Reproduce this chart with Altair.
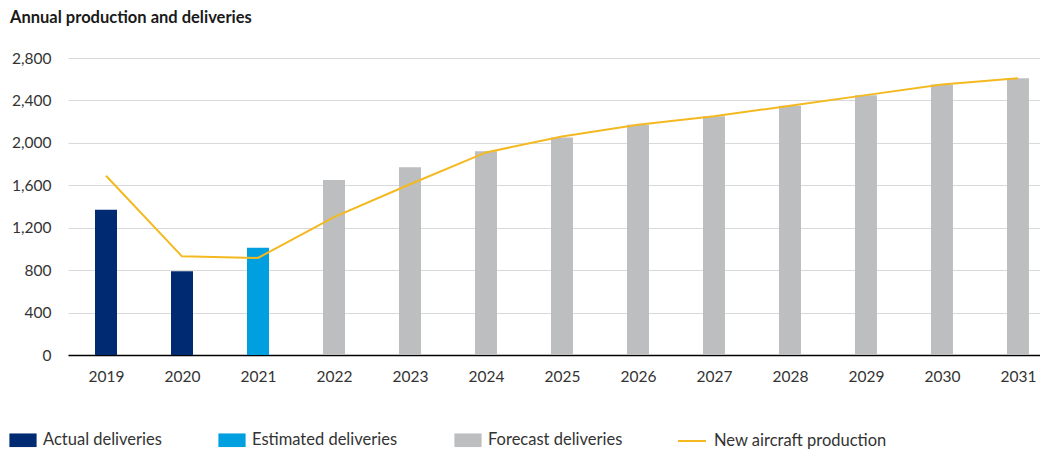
import altair as alt
import pandas as pd

years = [str(y) for y in range(2019, 2032)]
deliveries = [1370, 790, 1010, 1650, 1770, 1920, 2050, 2170, 2250, 2350, 2450, 2550, 2610]
delivery_type = ["Actual deliveries"] * 2 + ["Estimated deliveries"] + ["Forecast deliveries"] * 10
production = [1690, 930, 915, 1300, 1610, 1910, 2060, 2170, 2250, 2350, 2450, 2550, 2610]
y_ticks = list(range(0, 2801, 400))

type_domain = ["Actual deliveries", "Estimated deliveries", "Forecast deliveries"]
type_colors = ["#002b73", "#009fe0", "#bdbebf"]
line_name = "New aircraft production"
line_color = "#f4b920"
FONT = "Lato"
RECT = "M-1,-0.5H1V0.5H-1Z"

df = pd.DataFrame({
    "year": years,
    "deliveries": deliveries,
    "type": delivery_type,
    "production": production,
    "series": [line_name] * len(years),
})

x_enc = alt.X(
    "year:N",
    sort=years,
    scale=alt.Scale(type="point", padding=0.395, align=0.633),
    axis=alt.Axis(title=None, labelAngle=0, ticks=False, domainColor="#000000",
                  domainWidth=1.5, labelPadding=14, labelFontSize=15.5, labelFont=FONT,
                  labelColor="#333333", grid=False),
)

y_axis = alt.Axis(title=None, values=y_ticks, format=",.0f", ticks=False, domain=False,
                  gridColor="#d9d9d9", gridWidth=1.2, labelPadding=17,
                  labelFontSize=15.5, labelFont=FONT, labelColor="#333333")

bars = alt.Chart(df).mark_bar(size=22).encode(
    x=x_enc,
    y=alt.Y("deliveries:Q", scale=alt.Scale(domain=[0, 2800]), axis=y_axis),
    color=alt.Color("type:N",
                    scale=alt.Scale(domain=type_domain, range=type_colors),
                    legend=alt.Legend(title=None, orient="none", legendX=-59, legendY=368,
                                      direction="horizontal", symbolType=RECT,
                                      symbolSize=740, symbolStrokeWidth=0, labelFontSize=16.5,
                                      labelFont=FONT, labelColor="#333333", labelOffset=6,
                                      labelLimit=300, columnPadding=56)),
)

line = alt.Chart(df).mark_line(strokeWidth=2).encode(
    x=x_enc,
    y=alt.Y("production:Q", scale=alt.Scale(domain=[0, 2800]), axis=y_axis),
    stroke=alt.Stroke("series:N",
                      scale=alt.Scale(domain=[line_name], range=[line_color]),
                      legend=alt.Legend(title=None, orient="none", legendX=609, legendY=368,
                                        symbolType="stroke", symbolSize=784,
                                        symbolStrokeWidth=2, labelFontSize=16.5,
                                        labelFont=FONT, labelColor="#333333", labelOffset=7,
                                        labelLimit=300)),
)

chart = alt.layer(bars, line).properties(
    width=972,
    height=297,
    title=alt.TitleParams("Annual production and deliveries", anchor="start", frame="group",
                          fontSize=16.5, fontWeight="bold", font=FONT, color="#1a1a1a",
                          dx=-58, offset=25),
    autosize=alt.AutoSizeParams(type="none"),
    padding={"left": 60, "top": 50, "right": 0, "bottom": 100},
).configure_view(stroke=None)

chart.save("out.html", embed_options={"renderer": "svg", "actions": False})
